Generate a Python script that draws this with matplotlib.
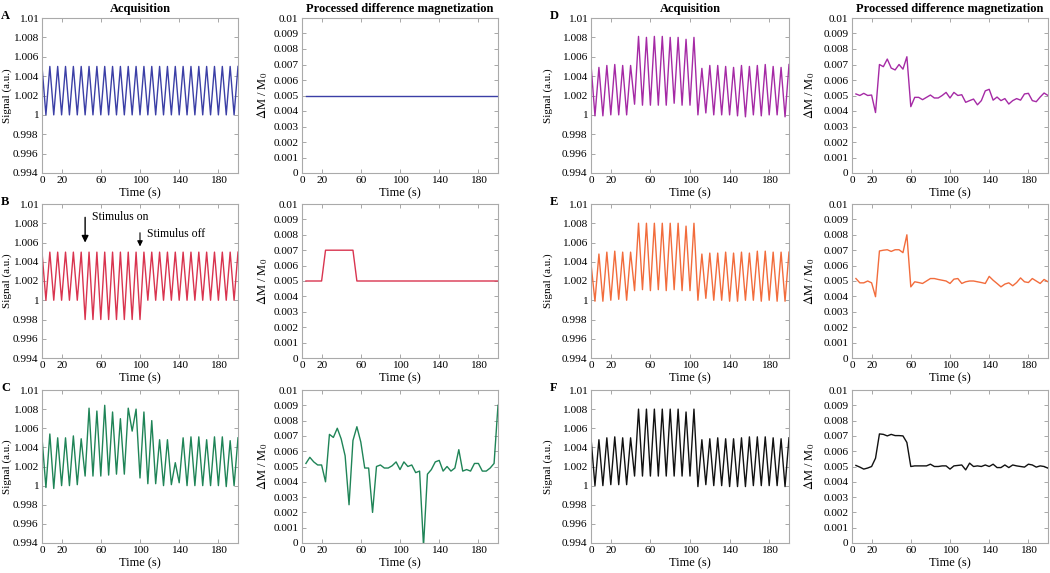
import numpy as np
import matplotlib.pyplot as plt
from matplotlib.ticker import FuncFormatter

plt.rcParams['font.family'] = ['Liberation Serif', 'DejaVu Serif']
plt.rcParams['mathtext.fontset'] = 'stix'

# time axes (s)
t_acq = np.arange(0, 201, 4)
t_proc = np.arange(4, 201, 4)

# A - acquisition / processed
sig_a = [1.005, 1.000] * 25 + [1.005]
dm_a = [0.005] * 50

# B
sig_b = [1.005, 1.000] * 5 + [1.005, 0.998] * 8 + [1.005, 1.000] * 12 + [1.005]
dm_b = [0.005] * 5 + [0.007] * 8 + [0.005] * 37

# C
sig_c = [1.0050, 0.9998, 1.0054, 0.9997, 1.0050, 1.0000, 1.0050, 1.0000, 1.0052, 1.0001,
         1.0049, 1.0010, 1.0081, 1.0010, 1.0078, 1.0010, 1.0084, 1.0011, 1.0077, 1.0012,
         1.0070, 1.0012, 1.0081, 1.0057, 1.0080, 1.0008, 1.0077, 1.0002, 1.0068, 1.0002,
         1.0048, 1.0000, 1.0048, 1.0001, 1.0024, 1.0003, 1.0050, 1.0000, 1.0051, 1.0000,
         1.0051, 1.0000, 1.0048, 1.0000, 1.0051, 1.0000, 1.0051, 0.9999, 1.0047, 1.0000,
         1.0050]
dm_c = [0.0052, 0.0056, 0.0053, 0.0051, 0.0051, 0.0040, 0.0071, 0.0069, 0.0075, 0.0068,
        0.0057, 0.0025, 0.0067, 0.0076, 0.0066, 0.0049, 0.0049, 0.0020, 0.0050, 0.0051,
        0.0049, 0.0049, 0.00505, 0.0053, 0.0048, 0.0053, 0.0050, 0.0051, 0.0046, 0.0047,
        -0.0002, 0.0045, 0.0048, 0.0053, 0.0054, 0.0047, 0.0050, 0.0047, 0.0049, 0.0061,
        0.0047, 0.0048, 0.0047, 0.0052, 0.0052, 0.0047, 0.0047, 0.0049, 0.0052, 0.0090]

# D
sig_d = [1.0052, 0.9999, 1.0049, 0.9999, 1.0051, 1.0000, 1.0052, 1.0000, 1.0051, 1.0000,
         1.0051, 1.0011, 1.0081, 1.0010, 1.0080, 1.0010, 1.0081, 1.0010, 1.0081, 1.0010,
         1.0080, 1.0012, 1.0080, 1.0010, 1.0078, 1.0010, 1.0080, 1.0000, 1.0048, 1.0002,
         1.0051, 1.0000, 1.0051, 1.0000, 1.0050, 1.0000, 1.0049, 0.9999, 1.0051, 0.9998,
         1.0050, 1.0000, 1.0051, 0.9999, 1.0052, 1.0000, 1.0050, 1.0000, 1.0049, 0.9998,
         1.0052]
dm_d = [0.0051, 0.0050, 0.00514, 0.0050, 0.00503, 0.0039, 0.0070, 0.00686, 0.00735, 0.00677,
        0.00665, 0.0070, 0.0067, 0.0075, 0.00428, 0.00488, 0.00488, 0.00473, 0.00488, 0.00503,
        0.00484, 0.00484, 0.0050, 0.0052, 0.00484, 0.0052, 0.0050, 0.00505, 0.00456, 0.00467,
        0.00477, 0.0044, 0.00467, 0.0053, 0.0054, 0.0047, 0.0049, 0.00467, 0.0048, 0.00445,
        0.00467, 0.0048, 0.0047, 0.0051, 0.00514, 0.00467, 0.0046, 0.0049, 0.00516, 0.0050]

# E
sig_e = [1.0038, 0.9999, 1.0048, 0.9999, 1.0050, 1.0000, 1.0051, 1.0001, 1.0050, 1.0000,
         1.0050, 1.0010, 1.0080, 1.0011, 1.0080, 1.0010, 1.0080, 1.0011, 1.0080, 1.0010,
         1.0080, 1.0011, 1.0080, 1.0010, 1.0077, 1.0010, 1.0080, 1.0000, 1.0048, 1.0002,
         1.0049, 1.0000, 1.0049, 1.0000, 1.0050, 0.9999, 1.0049, 0.9999, 1.0050, 1.0000,
         1.0049, 1.0000, 1.0051, 0.9999, 1.0051, 1.0000, 1.0050, 0.9999, 1.0050, 0.9999,
         1.0050]
dm_e = [0.00516, 0.00488, 0.00488, 0.0050, 0.00488, 0.00398, 0.00695, 0.0070, 0.00703, 0.00692,
        0.00703, 0.00703, 0.00684, 0.0080, 0.00462, 0.00495, 0.0049, 0.00484, 0.0050, 0.00516,
        0.00516, 0.0051, 0.00505, 0.0050, 0.00484, 0.00512, 0.00516, 0.00484, 0.00495, 0.0050,
        0.0050, 0.00495, 0.0049, 0.00484, 0.0053, 0.00505, 0.00484, 0.00462, 0.0048, 0.00488,
        0.00469, 0.0049, 0.0052, 0.00495, 0.0049, 0.00516, 0.0050, 0.00484, 0.0051, 0.00495]

# F
sig_f = [1.0050, 1.0000, 1.0048, 1.0000, 1.0050, 1.0001, 1.0051, 1.0001, 1.0050, 1.0001,
         1.0050, 1.0010, 1.0080, 1.0010, 1.0080, 1.0010, 1.0080, 1.0010, 1.0080, 1.0010,
         1.0080, 1.0010, 1.0080, 1.0010, 1.0077, 1.0010, 1.0080, 0.9999, 1.0048, 1.0001,
         1.0049, 1.0000, 1.0050, 1.0000, 1.0049, 0.9999, 1.0049, 0.9999, 1.0050, 0.9999,
         1.0051, 1.0000, 1.0051, 1.0000, 1.0051, 1.0000, 1.0050, 1.0000, 1.0049, 0.9999,
         1.0050]
dm_f = [0.00507, 0.00496, 0.00483, 0.0049, 0.0050, 0.00554, 0.00713, 0.0071, 0.0070, 0.0071,
        0.00702, 0.00702, 0.0070, 0.00657, 0.0050, 0.00504, 0.00504, 0.00504, 0.00504, 0.00515,
        0.0050, 0.0050, 0.00504, 0.00504, 0.00483, 0.00504, 0.00507, 0.0051, 0.00478, 0.00522,
        0.0050, 0.00504, 0.0050, 0.0051, 0.0050, 0.00515, 0.00493, 0.00493, 0.0051, 0.00493,
        0.0051, 0.00504, 0.0050, 0.00496, 0.00515, 0.0051, 0.00496, 0.00504, 0.0050, 0.00489]

panels = [
    ('A', sig_a, dm_a, '#3b3fa6'),
    ('B', sig_b, dm_b, '#d9344f'),
    ('C', sig_c, dm_c, '#1f8457'),
    ('D', sig_d, dm_d, '#a52aa5'),
    ('E', sig_e, dm_e, '#f26c3c'),
    ('F', sig_f, dm_f, '#111111'),
]

x_ticks = [0, 20, 60, 100, 140, 180]
sig_ticks = np.arange(0.994, 1.0101, 0.002)
dm_ticks = np.arange(0, 0.01001, 0.001)

W, H = 1050, 573
fig = plt.figure(figsize=(10.5, 5.73), dpi=100)


def px_axes(left, top, right, bottom):
    return fig.add_axes([left / W, 1 - bottom / H, (right - left) / W, (bottom - top) / H])


def style(ax, yticks):
    ax.set_xlim(0, 200)
    ax.set_xticks(x_ticks)
    ax.set_yticks(yticks)
    ax.yaxis.set_major_formatter(FuncFormatter(lambda v, pos: '%g' % round(v, 3)))
    ax.tick_params(direction='in', length=3, width=0.6, color='#999999',
                   labelsize=8.2, top=True, right=True, pad=2.5)
    for s in ax.spines.values():
        s.set_color('#aaaaaa')
        s.set_linewidth(0.8)
    ax.set_xlabel('Time (s)', fontsize=9, labelpad=1)


col_x = [(42, 238), (302, 498), (591, 789), (852, 1048)]
row_y = [(18, 173), (204, 358), (390, 543)]
# x pixel of the right edge of the (rotated) y-labels, one per column
ylab_x = [12, 270, 553, 817]

for i, (letter, sig, dm, color) in enumerate(panels):
    half = i // 3
    row = i % 3
    top, bottom = row_y[row]
    l1, r1 = col_x[2 * half]
    l2, r2 = col_x[2 * half + 1]

    ax1 = px_axes(l1, top, r1, bottom)
    ax1.plot(t_acq, sig, color=color, lw=1.0)
    ax1.set_ylim(0.994, 1.01)
    style(ax1, sig_ticks)
    ax1.set_ylabel('Signal (a.u.)', fontsize=8)
    ax1.yaxis.set_label_coords((ylab_x[2 * half] - l1) / (r1 - l1), 0.5)

    ax2 = px_axes(l2, top, r2, bottom)
    ax2.plot(t_proc, dm, color=color, lw=1.0)
    ax2.set_ylim(0, 0.01)
    style(ax2, dm_ticks)
    ax2.set_ylabel(r'$\Delta$M / M$_0$', fontsize=9)
    ax2.yaxis.set_label_coords((ylab_x[2 * half + 1] - l2) / (r2 - l2), 0.5)

    fig.text((l1 - 41) / W, 1 - (top - 2) / H, letter, fontsize=9, fontweight='bold',
             ha='left', va='center')

    if row == 0:
        ax1.set_title('Acquisition', fontsize=9, fontweight='bold', pad=4)
        ax2.set_title('Processed difference magnetization', fontsize=9, fontweight='bold', pad=4)

    if letter == 'B':
        ax1.annotate('', xy=(44, 1.0057), xytext=(44, 1.0089),
                     arrowprops=dict(arrowstyle='-|>', color='k', lw=1.0, mutation_scale=10))
        ax1.text(51, 1.0086, 'Stimulus on', fontsize=8.5, va='center', ha='left')
        ax1.annotate('', xy=(100, 1.0053), xytext=(100, 1.0073),
                     arrowprops=dict(arrowstyle='-|>', color='k', lw=0.8, mutation_scale=8))
        ax1.text(107, 1.0069, 'Stimulus off', fontsize=8.5, va='center', ha='left')

fig.savefig('out.png', dpi=100)
